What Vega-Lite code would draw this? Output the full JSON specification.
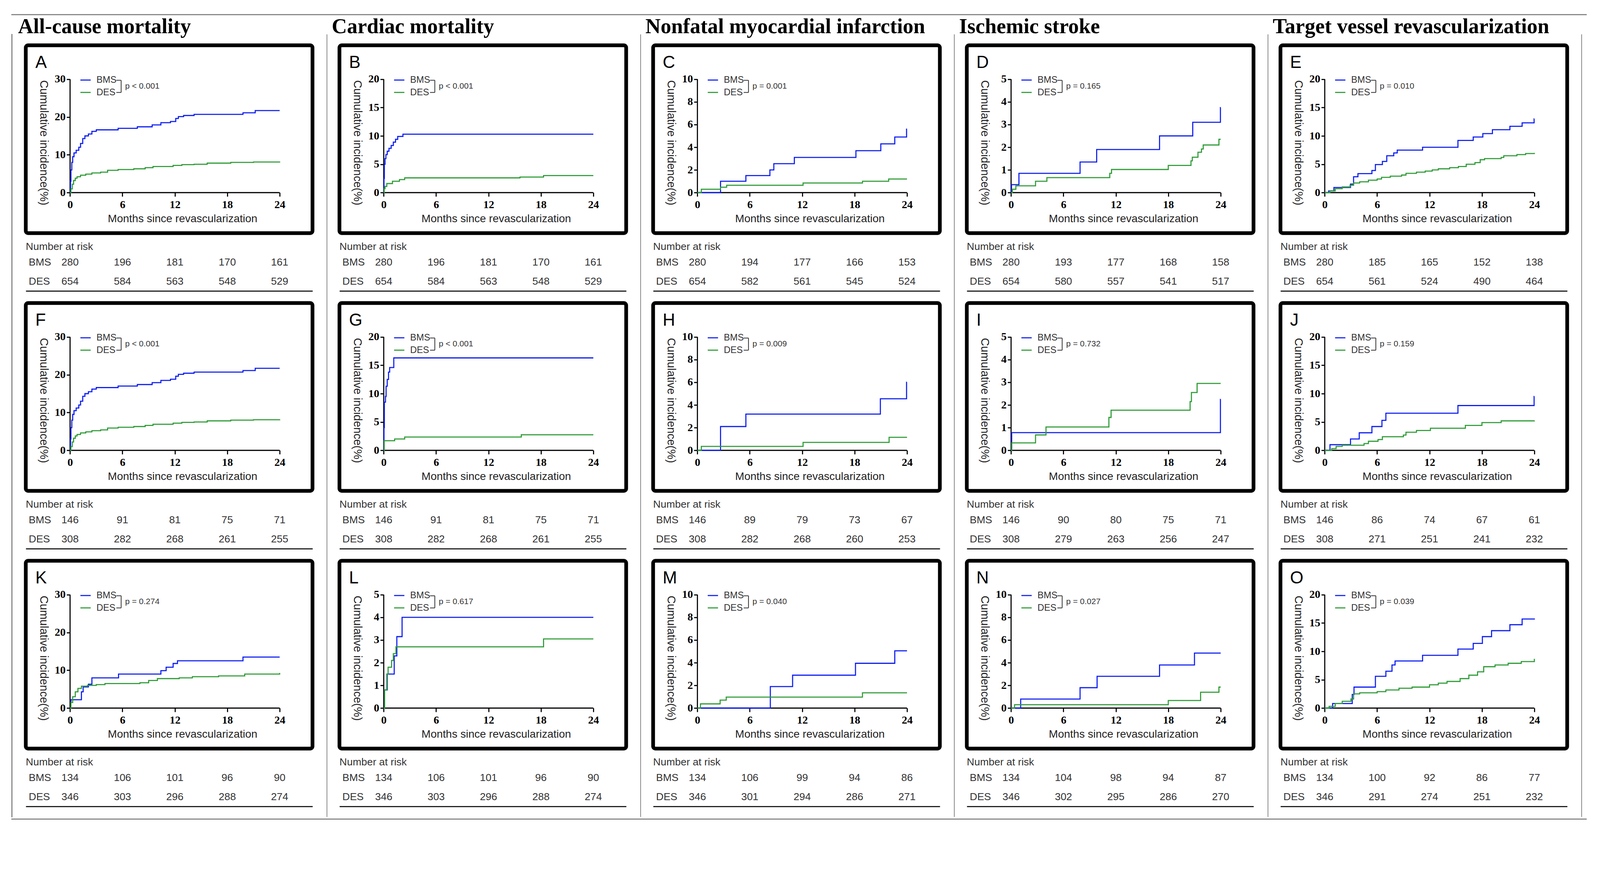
{
"$schema":"https://vega.github.io/schema/vega-lite/v6.json",
"background":"white",
"padding":{"left":26,"top":33,"right":8,"bottom":8},
"datasets":{
"cA":[{"g":"BMS","t":0,"c":0},{"g":"BMS","t":0.05,"c":3},{"g":"BMS","t":0.1,"c":6},{"g":"BMS","t":0.2,"c":8},{"g":"BMS","t":0.3,"c":9.5},{"g":"BMS","t":0.45,"c":10.5},{"g":"BMS","t":0.7,"c":11.2},{"g":"BMS","t":1,"c":12},{"g":"BMS","t":1.2,"c":13},{"g":"BMS","t":1.45,"c":14.3},{"g":"BMS","t":1.7,"c":15},{"g":"BMS","t":2.1,"c":15.5},{"g":"BMS","t":2.5,"c":16.2},{"g":"BMS","t":3,"c":16.6},{"g":"BMS","t":5.5,"c":17},{"g":"BMS","t":7.7,"c":17.4},{"g":"BMS","t":9.4,"c":17.9},{"g":"BMS","t":10.4,"c":18.5},{"g":"BMS","t":11.5,"c":18.8},{"g":"BMS","t":12.1,"c":19.6},{"g":"BMS","t":12.4,"c":20.1},{"g":"BMS","t":13,"c":20.4},{"g":"BMS","t":14.2,"c":20.7},{"g":"BMS","t":19.8,"c":21.1},{"g":"BMS","t":21.2,"c":21.7},{"g":"BMS","t":24,"c":21.7},
{"g":"DES","t":0,"c":0},{"g":"DES","t":0.1,"c":1},{"g":"DES","t":0.25,"c":2.2},{"g":"DES","t":0.4,"c":3.2},{"g":"DES","t":0.6,"c":3.8},{"g":"DES","t":0.8,"c":4.2},{"g":"DES","t":1.2,"c":4.6},{"g":"DES","t":1.8,"c":4.9},{"g":"DES","t":2.5,"c":5.2},{"g":"DES","t":3.5,"c":5.4},{"g":"DES","t":4.3,"c":5.9},{"g":"DES","t":5.5,"c":6.1},{"g":"DES","t":7.3,"c":6.3},{"g":"DES","t":8.6,"c":6.6},{"g":"DES","t":9.5,"c":6.9},{"g":"DES","t":11.8,"c":7.2},{"g":"DES","t":12.8,"c":7.4},{"g":"DES","t":14.2,"c":7.5},{"g":"DES","t":15.7,"c":7.8},{"g":"DES","t":18.4,"c":8},{"g":"DES","t":21,"c":8.1},{"g":"DES","t":24,"c":8.2}],
"cB":[{"g":"BMS","t":0,"c":0},{"g":"BMS","t":0.03,"c":2.5},{"g":"BMS","t":0.07,"c":5},{"g":"BMS","t":0.15,"c":6},{"g":"BMS","t":0.25,"c":6.7},{"g":"BMS","t":0.4,"c":7.3},{"g":"BMS","t":0.6,"c":7.8},{"g":"BMS","t":0.85,"c":8.3},{"g":"BMS","t":1.1,"c":8.9},{"g":"BMS","t":1.35,"c":9.4},{"g":"BMS","t":1.6,"c":9.9},{"g":"BMS","t":2.2,"c":10.3},{"g":"BMS","t":24,"c":10.3},
{"g":"DES","t":0,"c":0},{"g":"DES","t":0.05,"c":0.7},{"g":"DES","t":0.15,"c":1.1},{"g":"DES","t":0.35,"c":1.6},{"g":"DES","t":1,"c":2},{"g":"DES","t":1.8,"c":2.3},{"g":"DES","t":2.4,"c":2.6},{"g":"DES","t":15.6,"c":2.75},{"g":"DES","t":18.3,"c":3},{"g":"DES","t":24,"c":3}],
"cC":[{"g":"BMS","t":0,"c":0},{"g":"BMS","t":2.65,"c":1},{"g":"BMS","t":5.55,"c":1.5},{"g":"BMS","t":8.3,"c":2},{"g":"BMS","t":8.75,"c":2.55},{"g":"BMS","t":11.1,"c":3.1},{"g":"BMS","t":18.15,"c":3.7},{"g":"BMS","t":21,"c":4.3},{"g":"BMS","t":22.6,"c":4.9},{"g":"BMS","t":23.95,"c":5.6},{"g":"BMS","t":24,"c":5.6},
{"g":"DES","t":0,"c":0},{"g":"DES","t":0.45,"c":0.3},{"g":"DES","t":2.65,"c":0.48},{"g":"DES","t":3.35,"c":0.65},{"g":"DES","t":12.1,"c":0.85},{"g":"DES","t":18.9,"c":1},{"g":"DES","t":21.9,"c":1.2},{"g":"DES","t":24,"c":1.2}],
"cD":[{"g":"BMS","t":0,"c":0},{"g":"BMS","t":0.05,"c":0.35},{"g":"BMS","t":0.9,"c":0.85},{"g":"BMS","t":7.9,"c":1.35},{"g":"BMS","t":9.8,"c":1.9},{"g":"BMS","t":17,"c":2.5},{"g":"BMS","t":20.8,"c":3.1},{"g":"BMS","t":23.97,"c":3.75},{"g":"BMS","t":24,"c":3.75},
{"g":"DES","t":0,"c":0},{"g":"DES","t":0.15,"c":0.15},{"g":"DES","t":0.55,"c":0.3},{"g":"DES","t":2.8,"c":0.5},{"g":"DES","t":4.1,"c":0.66},{"g":"DES","t":11.3,"c":0.85},{"g":"DES","t":11.5,"c":1.02},{"g":"DES","t":18,"c":1.2},{"g":"DES","t":20.6,"c":1.4},{"g":"DES","t":20.75,"c":1.56},{"g":"DES","t":21.4,"c":1.78},{"g":"DES","t":21.8,"c":1.92},{"g":"DES","t":22,"c":2.1},{"g":"DES","t":23.8,"c":2.35},{"g":"DES","t":24,"c":2.35}],
"cE":[{"g":"BMS","t":0,"c":0},{"g":"BMS","t":0.45,"c":0.3},{"g":"BMS","t":1.05,"c":0.9},{"g":"BMS","t":2.95,"c":1.5},{"g":"BMS","t":3.3,"c":2.8},{"g":"BMS","t":3.8,"c":3.35},{"g":"BMS","t":5.4,"c":3.9},{"g":"BMS","t":5.8,"c":4.95},{"g":"BMS","t":6.6,"c":5.5},{"g":"BMS","t":7.1,"c":6.5},{"g":"BMS","t":7.9,"c":7},{"g":"BMS","t":8.3,"c":7.5},{"g":"BMS","t":11.2,"c":8},{"g":"BMS","t":15.25,"c":9.2},{"g":"BMS","t":17,"c":9.8},{"g":"BMS","t":18.1,"c":10.4},{"g":"BMS","t":19.2,"c":11.1},{"g":"BMS","t":21.2,"c":11.7},{"g":"BMS","t":22.6,"c":12.3},{"g":"BMS","t":23.97,"c":13},{"g":"BMS","t":24,"c":13},
{"g":"DES","t":0,"c":0},{"g":"DES","t":0.6,"c":0.3},{"g":"DES","t":1.2,"c":0.7},{"g":"DES","t":2,"c":1},{"g":"DES","t":2.9,"c":1.3},{"g":"DES","t":3.3,"c":1.7},{"g":"DES","t":4,"c":1.9},{"g":"DES","t":5,"c":2.2},{"g":"DES","t":6,"c":2.4},{"g":"DES","t":6.5,"c":2.7},{"g":"DES","t":7.5,"c":2.9},{"g":"DES","t":8.8,"c":3.1},{"g":"DES","t":9.3,"c":3.4},{"g":"DES","t":10.5,"c":3.6},{"g":"DES","t":11.5,"c":3.8},{"g":"DES","t":12.3,"c":4},{"g":"DES","t":13,"c":4.2},{"g":"DES","t":14.3,"c":4.4},{"g":"DES","t":15.3,"c":4.6},{"g":"DES","t":16.2,"c":5},{"g":"DES","t":17.2,"c":5.3},{"g":"DES","t":17.8,"c":5.8},{"g":"DES","t":18.3,"c":6},{"g":"DES","t":20.2,"c":6.2},{"g":"DES","t":20.5,"c":6.5},{"g":"DES","t":22,"c":6.7},{"g":"DES","t":23,"c":6.9},{"g":"DES","t":24,"c":7}],
"cG":[{"g":"BMS","t":0,"c":0},{"g":"BMS","t":0.03,"c":4},{"g":"BMS","t":0.07,"c":8.5},{"g":"BMS","t":0.2,"c":9.5},{"g":"BMS","t":0.27,"c":11.3},{"g":"BMS","t":0.4,"c":12.5},{"g":"BMS","t":0.55,"c":13.8},{"g":"BMS","t":0.68,"c":14.6},{"g":"BMS","t":1.15,"c":16.3},{"g":"BMS","t":24,"c":16.3},
{"g":"DES","t":0,"c":0},{"g":"DES","t":0.05,"c":1.7},{"g":"DES","t":1.25,"c":2},{"g":"DES","t":2.4,"c":2.35},{"g":"DES","t":15.75,"c":2.75},{"g":"DES","t":24,"c":2.75}],
"cH":[{"g":"BMS","t":0,"c":0},{"g":"BMS","t":2.65,"c":2.1},{"g":"BMS","t":5.55,"c":3.2},{"g":"BMS","t":20.95,"c":4.55},{"g":"BMS","t":23.95,"c":6},{"g":"BMS","t":24,"c":6},
{"g":"DES","t":0,"c":0},{"g":"DES","t":0.45,"c":0.35},{"g":"DES","t":12.1,"c":0.7},{"g":"DES","t":21.95,"c":1.15},{"g":"DES","t":24,"c":1.15}],
"cI":[{"g":"BMS","t":0,"c":0},{"g":"BMS","t":0.07,"c":0.78},{"g":"BMS","t":23.97,"c":2.25},{"g":"BMS","t":24,"c":2.25},
{"g":"DES","t":0,"c":0},{"g":"DES","t":0.07,"c":0.33},{"g":"DES","t":2.8,"c":0.68},{"g":"DES","t":4,"c":1.03},{"g":"DES","t":11.2,"c":1.45},{"g":"DES","t":11.45,"c":1.77},{"g":"DES","t":20.5,"c":2.15},{"g":"DES","t":20.65,"c":2.55},{"g":"DES","t":21.3,"c":2.95},{"g":"DES","t":24,"c":2.95}],
"cJ":[{"g":"BMS","t":0,"c":0},{"g":"BMS","t":0.6,"c":1},{"g":"BMS","t":2.95,"c":2},{"g":"BMS","t":3.95,"c":3.1},{"g":"BMS","t":5.4,"c":4.2},{"g":"BMS","t":6.55,"c":5.3},{"g":"BMS","t":7,"c":6.55},{"g":"BMS","t":15.25,"c":7.9},{"g":"BMS","t":23.97,"c":9.5},{"g":"BMS","t":24,"c":9.5},
{"g":"DES","t":0,"c":0},{"g":"DES","t":0.8,"c":0.3},{"g":"DES","t":1.3,"c":0.7},{"g":"DES","t":2,"c":0.9},{"g":"DES","t":4.5,"c":1.2},{"g":"DES","t":5,"c":1.6},{"g":"DES","t":6.1,"c":1.9},{"g":"DES","t":6.6,"c":2.4},{"g":"DES","t":9,"c":2.7},{"g":"DES","t":9.3,"c":3.2},{"g":"DES","t":10.5,"c":3.5},{"g":"DES","t":12.1,"c":3.9},{"g":"DES","t":16.1,"c":4.4},{"g":"DES","t":18,"c":4.9},{"g":"DES","t":20.2,"c":5.2},{"g":"DES","t":24,"c":5.25}],
"cK":[{"g":"BMS","t":0,"c":0},{"g":"BMS","t":0.1,"c":2.2},{"g":"BMS","t":1.3,"c":4.3},{"g":"BMS","t":1.5,"c":5.6},{"g":"BMS","t":2.1,"c":6.3},{"g":"BMS","t":2.5,"c":8},{"g":"BMS","t":5.55,"c":9},{"g":"BMS","t":10.4,"c":9.9},{"g":"BMS","t":11,"c":10.8},{"g":"BMS","t":11.8,"c":11.8},{"g":"BMS","t":12.3,"c":12.5},{"g":"BMS","t":19.8,"c":13.5},{"g":"BMS","t":24,"c":13.5},
{"g":"DES","t":0,"c":0},{"g":"DES","t":0.1,"c":1.5},{"g":"DES","t":0.3,"c":3},{"g":"DES","t":0.6,"c":4.3},{"g":"DES","t":0.9,"c":5.2},{"g":"DES","t":1.3,"c":5.8},{"g":"DES","t":2,"c":6},{"g":"DES","t":3,"c":6.2},{"g":"DES","t":4,"c":6.5},{"g":"DES","t":8,"c":6.7},{"g":"DES","t":9,"c":7.3},{"g":"DES","t":10,"c":7.8},{"g":"DES","t":12.5,"c":8},{"g":"DES","t":14,"c":8.3},{"g":"DES","t":17,"c":8.5},{"g":"DES","t":20,"c":9},{"g":"DES","t":24,"c":9.3}],
"cL":[{"g":"BMS","t":0,"c":0},{"g":"BMS","t":0.1,"c":0.8},{"g":"BMS","t":0.4,"c":1.5},{"g":"BMS","t":1.2,"c":2.3},{"g":"BMS","t":1.5,"c":3.15},{"g":"BMS","t":2.1,"c":4},{"g":"BMS","t":24,"c":4},
{"g":"DES","t":0,"c":0},{"g":"DES","t":0.1,"c":0.8},{"g":"DES","t":0.35,"c":1.5},{"g":"DES","t":0.5,"c":1.8},{"g":"DES","t":0.9,"c":2.1},{"g":"DES","t":1.1,"c":2.4},{"g":"DES","t":1.4,"c":2.7},{"g":"DES","t":18.3,"c":3.05},{"g":"DES","t":24,"c":3.05}],
"cM":[{"g":"BMS","t":0,"c":0},{"g":"BMS","t":8.35,"c":1.9},{"g":"BMS","t":10.9,"c":2.9},{"g":"BMS","t":18.1,"c":3.95},{"g":"BMS","t":22.6,"c":5.05},{"g":"BMS","t":24,"c":5.05},
{"g":"DES","t":0,"c":0},{"g":"DES","t":0.35,"c":0.37},{"g":"DES","t":2.6,"c":0.7},{"g":"DES","t":3.3,"c":0.97},{"g":"DES","t":18.9,"c":1.35},{"g":"DES","t":24,"c":1.35}],
"cN":[{"g":"BMS","t":0,"c":0},{"g":"BMS","t":1.1,"c":0.8},{"g":"BMS","t":7.9,"c":1.8},{"g":"BMS","t":9.85,"c":2.8},{"g":"BMS","t":17,"c":3.8},{"g":"BMS","t":21,"c":4.85},{"g":"BMS","t":24,"c":4.85},
{"g":"DES","t":0,"c":0},{"g":"DES","t":0.4,"c":0.3},{"g":"DES","t":18,"c":0.67},{"g":"DES","t":21.7,"c":1.4},{"g":"DES","t":23.8,"c":1.85},{"g":"DES","t":24,"c":1.85}],
"cO":[{"g":"BMS","t":0,"c":0},{"g":"BMS","t":0.9,"c":0.8},{"g":"BMS","t":3.15,"c":2.4},{"g":"BMS","t":3.35,"c":3.7},{"g":"BMS","t":5.8,"c":5.6},{"g":"BMS","t":7,"c":6.5},{"g":"BMS","t":7.7,"c":7.6},{"g":"BMS","t":8.05,"c":8.3},{"g":"BMS","t":11.2,"c":9.3},{"g":"BMS","t":15.25,"c":10.4},{"g":"BMS","t":17,"c":11.4},{"g":"BMS","t":18.05,"c":12.6},{"g":"BMS","t":19.1,"c":13.65},{"g":"BMS","t":21.2,"c":14.7},{"g":"BMS","t":22.6,"c":15.7},{"g":"BMS","t":24,"c":15.8},
{"g":"DES","t":0,"c":0},{"g":"DES","t":0.5,"c":0.3},{"g":"DES","t":1.2,"c":0.8},{"g":"DES","t":2,"c":1.2},{"g":"DES","t":3,"c":1.6},{"g":"DES","t":3.3,"c":2.5},{"g":"DES","t":4,"c":2.7},{"g":"DES","t":6,"c":2.9},{"g":"DES","t":7,"c":3.2},{"g":"DES","t":8.5,"c":3.5},{"g":"DES","t":10,"c":3.7},{"g":"DES","t":12,"c":4.1},{"g":"DES","t":13,"c":4.4},{"g":"DES","t":14,"c":4.7},{"g":"DES","t":15.5,"c":5.2},{"g":"DES","t":16.5,"c":5.8},{"g":"DES","t":17.5,"c":6.4},{"g":"DES","t":18.2,"c":7.3},{"g":"DES","t":19.5,"c":7.6},{"g":"DES","t":21,"c":7.9},{"g":"DES","t":22.5,"c":8.2},{"g":"DES","t":24,"c":8.7}],
"rAB":[{"g":"BMS","t":0,"n":280},{"g":"BMS","t":6,"n":196},{"g":"BMS","t":12,"n":181},{"g":"BMS","t":18,"n":170},{"g":"BMS","t":24,"n":161},{"g":"DES","t":0,"n":654},{"g":"DES","t":6,"n":584},{"g":"DES","t":12,"n":563},{"g":"DES","t":18,"n":548},{"g":"DES","t":24,"n":529}],
"rC":[{"g":"BMS","t":0,"n":280},{"g":"BMS","t":6,"n":194},{"g":"BMS","t":12,"n":177},{"g":"BMS","t":18,"n":166},{"g":"BMS","t":24,"n":153},{"g":"DES","t":0,"n":654},{"g":"DES","t":6,"n":582},{"g":"DES","t":12,"n":561},{"g":"DES","t":18,"n":545},{"g":"DES","t":24,"n":524}],
"rD":[{"g":"BMS","t":0,"n":280},{"g":"BMS","t":6,"n":193},{"g":"BMS","t":12,"n":177},{"g":"BMS","t":18,"n":168},{"g":"BMS","t":24,"n":158},{"g":"DES","t":0,"n":654},{"g":"DES","t":6,"n":580},{"g":"DES","t":12,"n":557},{"g":"DES","t":18,"n":541},{"g":"DES","t":24,"n":517}],
"rE":[{"g":"BMS","t":0,"n":280},{"g":"BMS","t":6,"n":185},{"g":"BMS","t":12,"n":165},{"g":"BMS","t":18,"n":152},{"g":"BMS","t":24,"n":138},{"g":"DES","t":0,"n":654},{"g":"DES","t":6,"n":561},{"g":"DES","t":12,"n":524},{"g":"DES","t":18,"n":490},{"g":"DES","t":24,"n":464}],
"rFG":[{"g":"BMS","t":0,"n":146},{"g":"BMS","t":6,"n":91},{"g":"BMS","t":12,"n":81},{"g":"BMS","t":18,"n":75},{"g":"BMS","t":24,"n":71},{"g":"DES","t":0,"n":308},{"g":"DES","t":6,"n":282},{"g":"DES","t":12,"n":268},{"g":"DES","t":18,"n":261},{"g":"DES","t":24,"n":255}],
"rH":[{"g":"BMS","t":0,"n":146},{"g":"BMS","t":6,"n":89},{"g":"BMS","t":12,"n":79},{"g":"BMS","t":18,"n":73},{"g":"BMS","t":24,"n":67},{"g":"DES","t":0,"n":308},{"g":"DES","t":6,"n":282},{"g":"DES","t":12,"n":268},{"g":"DES","t":18,"n":260},{"g":"DES","t":24,"n":253}],
"rI":[{"g":"BMS","t":0,"n":146},{"g":"BMS","t":6,"n":90},{"g":"BMS","t":12,"n":80},{"g":"BMS","t":18,"n":75},{"g":"BMS","t":24,"n":71},{"g":"DES","t":0,"n":308},{"g":"DES","t":6,"n":279},{"g":"DES","t":12,"n":263},{"g":"DES","t":18,"n":256},{"g":"DES","t":24,"n":247}],
"rJ":[{"g":"BMS","t":0,"n":146},{"g":"BMS","t":6,"n":86},{"g":"BMS","t":12,"n":74},{"g":"BMS","t":18,"n":67},{"g":"BMS","t":24,"n":61},{"g":"DES","t":0,"n":308},{"g":"DES","t":6,"n":271},{"g":"DES","t":12,"n":251},{"g":"DES","t":18,"n":241},{"g":"DES","t":24,"n":232}],
"rKL":[{"g":"BMS","t":0,"n":134},{"g":"BMS","t":6,"n":106},{"g":"BMS","t":12,"n":101},{"g":"BMS","t":18,"n":96},{"g":"BMS","t":24,"n":90},{"g":"DES","t":0,"n":346},{"g":"DES","t":6,"n":303},{"g":"DES","t":12,"n":296},{"g":"DES","t":18,"n":288},{"g":"DES","t":24,"n":274}],
"rM":[{"g":"BMS","t":0,"n":134},{"g":"BMS","t":6,"n":106},{"g":"BMS","t":12,"n":99},{"g":"BMS","t":18,"n":94},{"g":"BMS","t":24,"n":86},{"g":"DES","t":0,"n":346},{"g":"DES","t":6,"n":301},{"g":"DES","t":12,"n":294},{"g":"DES","t":18,"n":286},{"g":"DES","t":24,"n":271}],
"rN":[{"g":"BMS","t":0,"n":134},{"g":"BMS","t":6,"n":104},{"g":"BMS","t":12,"n":98},{"g":"BMS","t":18,"n":94},{"g":"BMS","t":24,"n":87},{"g":"DES","t":0,"n":346},{"g":"DES","t":6,"n":302},{"g":"DES","t":12,"n":295},{"g":"DES","t":18,"n":286},{"g":"DES","t":24,"n":270}],
"rO":[{"g":"BMS","t":0,"n":134},{"g":"BMS","t":6,"n":100},{"g":"BMS","t":12,"n":92},{"g":"BMS","t":18,"n":86},{"g":"BMS","t":24,"n":77},{"g":"DES","t":0,"n":346},{"g":"DES","t":6,"n":291},{"g":"DES","t":12,"n":274},{"g":"DES","t":18,"n":251},{"g":"DES","t":24,"n":232}]
},
"spacing":0,
"resolve":{"scale":{"color":"independent"}},
"vconcat":[
{"width":4031,"height":1,"view":{"stroke":"#8a8a8a","strokeWidth":2},"data":{"values":[{}]},"mark":{"type":"point","opacity":0},"encoding":{}},
{"spacing":11,"center":true,"resolve":{"scale":{"color":"independent"}},
"hconcat":[
{"width":1,"height":2004,"view":{"stroke":"#8a8a8a","strokeWidth":2},"data":{"values":[{}]},"mark":{"type":"point","opacity":0},"encoding":{}},
{"title":{"text":"All-cause mortality","font":"Liberation Serif","fontSize":54,"fontWeight":"bold","anchor":"start","frame":"bounds","offset":-28,"dx":-15,"baseline":"alphabetic","color":"#000"},
"spacing":26,"resolve":{"scale":{"color":"independent"}},
"vconcat":[
{"spacing":16,"resolve":{"scale":{"color":"independent"}},"vconcat":[
{"width":734,"height":481,"view":{"stroke":"#000","strokeWidth":9.5,"cornerRadius":6},"title":{"text":"A"},
"layer":[
{"data":{"values":[{}]},"mark":{"type":"rule","strokeWidth":2.8,"color":"#000"},"encoding":{"x":{"datum":0,"type":"quantitative"},"x2":{"datum":24},"y":{"datum":0,"type":"quantitative"}}},
{"data":{"values":[{}]},"mark":{"type":"rule","strokeWidth":2.8,"color":"#000"},"encoding":{"x":{"datum":0,"type":"quantitative"},"y":{"datum":0,"type":"quantitative"},"y2":{"datum":30}}},
{"data":{"values":[{}]},"mark":{"type":"rule","strokeWidth":2,"color":"#333"},"encoding":{"x":{"datum":5.3,"type":"quantitative"},"x2":{"datum":5.85},"y":{"datum":29.71,"type":"quantitative"}}},
{"data":{"values":[{}]},"mark":{"type":"rule","strokeWidth":2,"color":"#333"},"encoding":{"x":{"datum":5.3,"type":"quantitative"},"x2":{"datum":5.85},"y":{"datum":26.49,"type":"quantitative"}}},
{"data":{"values":[{}]},"mark":{"type":"rule","strokeWidth":2,"color":"#333"},"encoding":{"x":{"datum":5.85,"type":"quantitative"},"y":{"datum":29.71,"type":"quantitative"},"y2":{"datum":26.49}}},
{"data":{"values":[{"p":"p < 0.001"}]},"mark":{"type":"text","align":"left","baseline":"middle","fontSize":21,"color":"#333"},"encoding":{"x":{"datum":6.3,"type":"quantitative"},"y":{"datum":28.1,"type":"quantitative"},"text":{"field":"p"}}},
{"data":{"name":"cA"},"mark":{"type":"line","interpolate":"step-after","strokeWidth":2.8},"encoding":{"x":{"field":"t","type":"quantitative","scale":{"domain":[-5.07,27.76],"nice":false,"zero":false},"axis":{"values":[0,6,12,18,24],"title":"Months since revascularization"}},"y":{"field":"c","type":"quantitative","scale":{"domain":[-10.714,38.961],"nice":false,"zero":false},"axis":{"values":[0,10,20,30],"format":"d","title":"Cumulative incidence(%)"}},"color":{"field":"g","type":"nominal","scale":{"domain":["BMS","DES"],"range":["#0d1ef2","#2e9b36"]},"legend":{"title":null,"orient":"none","legendX":138,"legendY":74}}}}
]},
{"width":734,"height":98,"title":{"text":"Number at risk","anchor":"start","frame":"group","fontSize":26.5,"font":"Liberation Sans","fontWeight":"normal","color":"#333","baseline":"alphabetic","offset":-19,"dx":0},"data":{"name":"rAB"},"mark":{"type":"text","fontSize":26.5,"color":"#333"},"encoding":{"x":{"field":"t","type":"quantitative","scale":{"domain":[-5.07,27.76],"nice":false,"zero":false},"axis":{"offset":0,"domain":true,"domainColor":"#222","domainWidth":3,"labels":false,"ticks":false,"title":null}},"y":{"field":"g","type":"nominal","scale":{"domain":["BMS","DES"]},"axis":{"offset":-7,"domain":false,"ticks":false,"title":null,"labelAlign":"left","labelPadding":0,"labelFont":"Liberation Sans","labelFontWeight":"normal","labelFontSize":26.5,"labelColor":"#333"}},"text":{"field":"n"}}}
]},
{"spacing":16,"resolve":{"scale":{"color":"independent"}},"vconcat":[
{"width":734,"height":481,"view":{"stroke":"#000","strokeWidth":9.5,"cornerRadius":6},"title":{"text":"F"},
"layer":[
{"data":{"values":[{}]},"mark":{"type":"rule","strokeWidth":2.8,"color":"#000"},"encoding":{"x":{"datum":0,"type":"quantitative"},"x2":{"datum":24},"y":{"datum":0,"type":"quantitative"}}},
{"data":{"values":[{}]},"mark":{"type":"rule","strokeWidth":2.8,"color":"#000"},"encoding":{"x":{"datum":0,"type":"quantitative"},"y":{"datum":0,"type":"quantitative"},"y2":{"datum":30}}},
{"data":{"values":[{}]},"mark":{"type":"rule","strokeWidth":2,"color":"#333"},"encoding":{"x":{"datum":5.3,"type":"quantitative"},"x2":{"datum":5.85},"y":{"datum":29.71,"type":"quantitative"}}},
{"data":{"values":[{}]},"mark":{"type":"rule","strokeWidth":2,"color":"#333"},"encoding":{"x":{"datum":5.3,"type":"quantitative"},"x2":{"datum":5.85},"y":{"datum":26.49,"type":"quantitative"}}},
{"data":{"values":[{}]},"mark":{"type":"rule","strokeWidth":2,"color":"#333"},"encoding":{"x":{"datum":5.85,"type":"quantitative"},"y":{"datum":29.71,"type":"quantitative"},"y2":{"datum":26.49}}},
{"data":{"values":[{"p":"p < 0.001"}]},"mark":{"type":"text","align":"left","baseline":"middle","fontSize":21,"color":"#333"},"encoding":{"x":{"datum":6.3,"type":"quantitative"},"y":{"datum":28.1,"type":"quantitative"},"text":{"field":"p"}}},
{"data":{"name":"cA"},"mark":{"type":"line","interpolate":"step-after","strokeWidth":2.8},"encoding":{"x":{"field":"t","type":"quantitative","scale":{"domain":[-5.07,27.76],"nice":false,"zero":false},"axis":{"values":[0,6,12,18,24],"title":"Months since revascularization"}},"y":{"field":"c","type":"quantitative","scale":{"domain":[-10.714,38.961],"nice":false,"zero":false},"axis":{"values":[0,10,20,30],"format":"d","title":"Cumulative incidence(%)"}},"color":{"field":"g","type":"nominal","scale":{"domain":["BMS","DES"],"range":["#0d1ef2","#2e9b36"]},"legend":{"title":null,"orient":"none","legendX":138,"legendY":74}}}}
]},
{"width":734,"height":98,"title":{"text":"Number at risk","anchor":"start","frame":"group","fontSize":26.5,"font":"Liberation Sans","fontWeight":"normal","color":"#333","baseline":"alphabetic","offset":-19,"dx":0},"data":{"name":"rFG"},"mark":{"type":"text","fontSize":26.5,"color":"#333"},"encoding":{"x":{"field":"t","type":"quantitative","scale":{"domain":[-5.07,27.76],"nice":false,"zero":false},"axis":{"offset":0,"domain":true,"domainColor":"#222","domainWidth":3,"labels":false,"ticks":false,"title":null}},"y":{"field":"g","type":"nominal","scale":{"domain":["BMS","DES"]},"axis":{"offset":-7,"domain":false,"ticks":false,"title":null,"labelAlign":"left","labelPadding":0,"labelFont":"Liberation Sans","labelFontWeight":"normal","labelFontSize":26.5,"labelColor":"#333"}},"text":{"field":"n"}}}
]},
{"spacing":16,"resolve":{"scale":{"color":"independent"}},"vconcat":[
{"width":734,"height":481,"view":{"stroke":"#000","strokeWidth":9.5,"cornerRadius":6},"title":{"text":"K"},
"layer":[
{"data":{"values":[{}]},"mark":{"type":"rule","strokeWidth":2.8,"color":"#000"},"encoding":{"x":{"datum":0,"type":"quantitative"},"x2":{"datum":24},"y":{"datum":0,"type":"quantitative"}}},
{"data":{"values":[{}]},"mark":{"type":"rule","strokeWidth":2.8,"color":"#000"},"encoding":{"x":{"datum":0,"type":"quantitative"},"y":{"datum":0,"type":"quantitative"},"y2":{"datum":30}}},
{"data":{"values":[{}]},"mark":{"type":"rule","strokeWidth":2,"color":"#333"},"encoding":{"x":{"datum":5.3,"type":"quantitative"},"x2":{"datum":5.85},"y":{"datum":29.71,"type":"quantitative"}}},
{"data":{"values":[{}]},"mark":{"type":"rule","strokeWidth":2,"color":"#333"},"encoding":{"x":{"datum":5.3,"type":"quantitative"},"x2":{"datum":5.85},"y":{"datum":26.49,"type":"quantitative"}}},
{"data":{"values":[{}]},"mark":{"type":"rule","strokeWidth":2,"color":"#333"},"encoding":{"x":{"datum":5.85,"type":"quantitative"},"y":{"datum":29.71,"type":"quantitative"},"y2":{"datum":26.49}}},
{"data":{"values":[{"p":"p = 0.274"}]},"mark":{"type":"text","align":"left","baseline":"middle","fontSize":21,"color":"#333"},"encoding":{"x":{"datum":6.3,"type":"quantitative"},"y":{"datum":28.1,"type":"quantitative"},"text":{"field":"p"}}},
{"data":{"name":"cK"},"mark":{"type":"line","interpolate":"step-after","strokeWidth":2.8},"encoding":{"x":{"field":"t","type":"quantitative","scale":{"domain":[-5.07,27.76],"nice":false,"zero":false},"axis":{"values":[0,6,12,18,24],"title":"Months since revascularization"}},"y":{"field":"c","type":"quantitative","scale":{"domain":[-10.714,38.961],"nice":false,"zero":false},"axis":{"values":[0,10,20,30],"format":"d","title":"Cumulative incidence(%)"}},"color":{"field":"g","type":"nominal","scale":{"domain":["BMS","DES"],"range":["#0d1ef2","#2e9b36"]},"legend":{"title":null,"orient":"none","legendX":138,"legendY":74}}}}
]},
{"width":734,"height":98,"title":{"text":"Number at risk","anchor":"start","frame":"group","fontSize":26.5,"font":"Liberation Sans","fontWeight":"normal","color":"#333","baseline":"alphabetic","offset":-19,"dx":0},"data":{"name":"rKL"},"mark":{"type":"text","fontSize":26.5,"color":"#333"},"encoding":{"x":{"field":"t","type":"quantitative","scale":{"domain":[-5.07,27.76],"nice":false,"zero":false},"axis":{"offset":0,"domain":true,"domainColor":"#222","domainWidth":3,"labels":false,"ticks":false,"title":null}},"y":{"field":"g","type":"nominal","scale":{"domain":["BMS","DES"]},"axis":{"offset":-7,"domain":false,"ticks":false,"title":null,"labelAlign":"left","labelPadding":0,"labelFont":"Liberation Sans","labelFontWeight":"normal","labelFontSize":26.5,"labelColor":"#333"}},"text":{"field":"n"}}}
]}
]},
{"width":20,"height":2004,"view":{"stroke":"#8a8a8a","strokeWidth":2,"strokeDash":[0,20,2004,10000]},"data":{"values":[{}]},"mark":{"type":"point","opacity":0},"encoding":{}},
{"title":{"text":"Cardiac mortality","font":"Liberation Serif","fontSize":54,"fontWeight":"bold","anchor":"start","frame":"bounds","offset":-28,"dx":-15,"baseline":"alphabetic","color":"#000"},
"spacing":26,"resolve":{"scale":{"color":"independent"}},
"vconcat":[
{"spacing":16,"resolve":{"scale":{"color":"independent"}},"vconcat":[
{"width":734,"height":481,"view":{"stroke":"#000","strokeWidth":9.5,"cornerRadius":6},"title":{"text":"B"},
"layer":[
{"data":{"values":[{}]},"mark":{"type":"rule","strokeWidth":2.8,"color":"#000"},"encoding":{"x":{"datum":0,"type":"quantitative"},"x2":{"datum":24},"y":{"datum":0,"type":"quantitative"}}},
{"data":{"values":[{}]},"mark":{"type":"rule","strokeWidth":2.8,"color":"#000"},"encoding":{"x":{"datum":0,"type":"quantitative"},"y":{"datum":0,"type":"quantitative"},"y2":{"datum":20}}},
{"data":{"values":[{}]},"mark":{"type":"rule","strokeWidth":2,"color":"#333"},"encoding":{"x":{"datum":5.3,"type":"quantitative"},"x2":{"datum":5.85},"y":{"datum":19.81,"type":"quantitative"}}},
{"data":{"values":[{}]},"mark":{"type":"rule","strokeWidth":2,"color":"#333"},"encoding":{"x":{"datum":5.3,"type":"quantitative"},"x2":{"datum":5.85},"y":{"datum":17.66,"type":"quantitative"}}},
{"data":{"values":[{}]},"mark":{"type":"rule","strokeWidth":2,"color":"#333"},"encoding":{"x":{"datum":5.85,"type":"quantitative"},"y":{"datum":19.81,"type":"quantitative"},"y2":{"datum":17.66}}},
{"data":{"values":[{"p":"p < 0.001"}]},"mark":{"type":"text","align":"left","baseline":"middle","fontSize":21,"color":"#333"},"encoding":{"x":{"datum":6.3,"type":"quantitative"},"y":{"datum":18.74,"type":"quantitative"},"text":{"field":"p"}}},
{"data":{"name":"cB"},"mark":{"type":"line","interpolate":"step-after","strokeWidth":2.8},"encoding":{"x":{"field":"t","type":"quantitative","scale":{"domain":[-5.07,27.76],"nice":false,"zero":false},"axis":{"values":[0,6,12,18,24],"title":"Months since revascularization"}},"y":{"field":"c","type":"quantitative","scale":{"domain":[-7.143,25.974],"nice":false,"zero":false},"axis":{"values":[0,5,10,15,20],"format":"d","title":"Cumulative incidence(%)"}},"color":{"field":"g","type":"nominal","scale":{"domain":["BMS","DES"],"range":["#0d1ef2","#2e9b36"]},"legend":{"title":null,"orient":"none","legendX":138,"legendY":74}}}}
]},
{"width":734,"height":98,"title":{"text":"Number at risk","anchor":"start","frame":"group","fontSize":26.5,"font":"Liberation Sans","fontWeight":"normal","color":"#333","baseline":"alphabetic","offset":-19,"dx":0},"data":{"name":"rAB"},"mark":{"type":"text","fontSize":26.5,"color":"#333"},"encoding":{"x":{"field":"t","type":"quantitative","scale":{"domain":[-5.07,27.76],"nice":false,"zero":false},"axis":{"offset":0,"domain":true,"domainColor":"#222","domainWidth":3,"labels":false,"ticks":false,"title":null}},"y":{"field":"g","type":"nominal","scale":{"domain":["BMS","DES"]},"axis":{"offset":-7,"domain":false,"ticks":false,"title":null,"labelAlign":"left","labelPadding":0,"labelFont":"Liberation Sans","labelFontWeight":"normal","labelFontSize":26.5,"labelColor":"#333"}},"text":{"field":"n"}}}
]},
{"spacing":16,"resolve":{"scale":{"color":"independent"}},"vconcat":[
{"width":734,"height":481,"view":{"stroke":"#000","strokeWidth":9.5,"cornerRadius":6},"title":{"text":"G"},
"layer":[
{"data":{"values":[{}]},"mark":{"type":"rule","strokeWidth":2.8,"color":"#000"},"encoding":{"x":{"datum":0,"type":"quantitative"},"x2":{"datum":24},"y":{"datum":0,"type":"quantitative"}}},
{"data":{"values":[{}]},"mark":{"type":"rule","strokeWidth":2.8,"color":"#000"},"encoding":{"x":{"datum":0,"type":"quantitative"},"y":{"datum":0,"type":"quantitative"},"y2":{"datum":20}}},
{"data":{"values":[{}]},"mark":{"type":"rule","strokeWidth":2,"color":"#333"},"encoding":{"x":{"datum":5.3,"type":"quantitative"},"x2":{"datum":5.85},"y":{"datum":19.81,"type":"quantitative"}}},
{"data":{"values":[{}]},"mark":{"type":"rule","strokeWidth":2,"color":"#333"},"encoding":{"x":{"datum":5.3,"type":"quantitative"},"x2":{"datum":5.85},"y":{"datum":17.66,"type":"quantitative"}}},
{"data":{"values":[{}]},"mark":{"type":"rule","strokeWidth":2,"color":"#333"},"encoding":{"x":{"datum":5.85,"type":"quantitative"},"y":{"datum":19.81,"type":"quantitative"},"y2":{"datum":17.66}}},
{"data":{"values":[{"p":"p < 0.001"}]},"mark":{"type":"text","align":"left","baseline":"middle","fontSize":21,"color":"#333"},"encoding":{"x":{"datum":6.3,"type":"quantitative"},"y":{"datum":18.74,"type":"quantitative"},"text":{"field":"p"}}},
{"data":{"name":"cG"},"mark":{"type":"line","interpolate":"step-after","strokeWidth":2.8},"encoding":{"x":{"field":"t","type":"quantitative","scale":{"domain":[-5.07,27.76],"nice":false,"zero":false},"axis":{"values":[0,6,12,18,24],"title":"Months since revascularization"}},"y":{"field":"c","type":"quantitative","scale":{"domain":[-7.143,25.974],"nice":false,"zero":false},"axis":{"values":[0,5,10,15,20],"format":"d","title":"Cumulative incidence(%)"}},"color":{"field":"g","type":"nominal","scale":{"domain":["BMS","DES"],"range":["#0d1ef2","#2e9b36"]},"legend":{"title":null,"orient":"none","legendX":138,"legendY":74}}}}
]},
{"width":734,"height":98,"title":{"text":"Number at risk","anchor":"start","frame":"group","fontSize":26.5,"font":"Liberation Sans","fontWeight":"normal","color":"#333","baseline":"alphabetic","offset":-19,"dx":0},"data":{"name":"rFG"},"mark":{"type":"text","fontSize":26.5,"color":"#333"},"encoding":{"x":{"field":"t","type":"quantitative","scale":{"domain":[-5.07,27.76],"nice":false,"zero":false},"axis":{"offset":0,"domain":true,"domainColor":"#222","domainWidth":3,"labels":false,"ticks":false,"title":null}},"y":{"field":"g","type":"nominal","scale":{"domain":["BMS","DES"]},"axis":{"offset":-7,"domain":false,"ticks":false,"title":null,"labelAlign":"left","labelPadding":0,"labelFont":"Liberation Sans","labelFontWeight":"normal","labelFontSize":26.5,"labelColor":"#333"}},"text":{"field":"n"}}}
]},
{"spacing":16,"resolve":{"scale":{"color":"independent"}},"vconcat":[
{"width":734,"height":481,"view":{"stroke":"#000","strokeWidth":9.5,"cornerRadius":6},"title":{"text":"L"},
"layer":[
{"data":{"values":[{}]},"mark":{"type":"rule","strokeWidth":2.8,"color":"#000"},"encoding":{"x":{"datum":0,"type":"quantitative"},"x2":{"datum":24},"y":{"datum":0,"type":"quantitative"}}},
{"data":{"values":[{}]},"mark":{"type":"rule","strokeWidth":2.8,"color":"#000"},"encoding":{"x":{"datum":0,"type":"quantitative"},"y":{"datum":0,"type":"quantitative"},"y2":{"datum":5}}},
{"data":{"values":[{}]},"mark":{"type":"rule","strokeWidth":2,"color":"#333"},"encoding":{"x":{"datum":5.3,"type":"quantitative"},"x2":{"datum":5.85},"y":{"datum":4.95,"type":"quantitative"}}},
{"data":{"values":[{}]},"mark":{"type":"rule","strokeWidth":2,"color":"#333"},"encoding":{"x":{"datum":5.3,"type":"quantitative"},"x2":{"datum":5.85},"y":{"datum":4.415,"type":"quantitative"}}},
{"data":{"values":[{}]},"mark":{"type":"rule","strokeWidth":2,"color":"#333"},"encoding":{"x":{"datum":5.85,"type":"quantitative"},"y":{"datum":4.95,"type":"quantitative"},"y2":{"datum":4.415}}},
{"data":{"values":[{"p":"p = 0.617"}]},"mark":{"type":"text","align":"left","baseline":"middle","fontSize":21,"color":"#333"},"encoding":{"x":{"datum":6.3,"type":"quantitative"},"y":{"datum":4.685,"type":"quantitative"},"text":{"field":"p"}}},
{"data":{"name":"cL"},"mark":{"type":"line","interpolate":"step-after","strokeWidth":2.8},"encoding":{"x":{"field":"t","type":"quantitative","scale":{"domain":[-5.07,27.76],"nice":false,"zero":false},"axis":{"values":[0,6,12,18,24],"title":"Months since revascularization"}},"y":{"field":"c","type":"quantitative","scale":{"domain":[-1.786,6.494],"nice":false,"zero":false},"axis":{"values":[0,1,2,3,4,5],"format":"d","title":"Cumulative incidence(%)"}},"color":{"field":"g","type":"nominal","scale":{"domain":["BMS","DES"],"range":["#0d1ef2","#2e9b36"]},"legend":{"title":null,"orient":"none","legendX":138,"legendY":74}}}}
]},
{"width":734,"height":98,"title":{"text":"Number at risk","anchor":"start","frame":"group","fontSize":26.5,"font":"Liberation Sans","fontWeight":"normal","color":"#333","baseline":"alphabetic","offset":-19,"dx":0},"data":{"name":"rKL"},"mark":{"type":"text","fontSize":26.5,"color":"#333"},"encoding":{"x":{"field":"t","type":"quantitative","scale":{"domain":[-5.07,27.76],"nice":false,"zero":false},"axis":{"offset":0,"domain":true,"domainColor":"#222","domainWidth":3,"labels":false,"ticks":false,"title":null}},"y":{"field":"g","type":"nominal","scale":{"domain":["BMS","DES"]},"axis":{"offset":-7,"domain":false,"ticks":false,"title":null,"labelAlign":"left","labelPadding":0,"labelFont":"Liberation Sans","labelFontWeight":"normal","labelFontSize":26.5,"labelColor":"#333"}},"text":{"field":"n"}}}
]}
]},
{"width":20,"height":2004,"view":{"stroke":"#8a8a8a","strokeWidth":2,"strokeDash":[0,20,2004,10000]},"data":{"values":[{}]},"mark":{"type":"point","opacity":0},"encoding":{}},
{"title":{"text":"Nonfatal myocardial infarction","font":"Liberation Serif","fontSize":54,"fontWeight":"bold","anchor":"start","frame":"bounds","offset":-28,"dx":-15,"baseline":"alphabetic","color":"#000"},
"spacing":26,"resolve":{"scale":{"color":"independent"}},
"vconcat":[
{"spacing":16,"resolve":{"scale":{"color":"independent"}},"vconcat":[
{"width":734,"height":481,"view":{"stroke":"#000","strokeWidth":9.5,"cornerRadius":6},"title":{"text":"C"},
"layer":[
{"data":{"values":[{}]},"mark":{"type":"rule","strokeWidth":2.8,"color":"#000"},"encoding":{"x":{"datum":0,"type":"quantitative"},"x2":{"datum":24},"y":{"datum":0,"type":"quantitative"}}},
{"data":{"values":[{}]},"mark":{"type":"rule","strokeWidth":2.8,"color":"#000"},"encoding":{"x":{"datum":0,"type":"quantitative"},"y":{"datum":0,"type":"quantitative"},"y2":{"datum":10}}},
{"data":{"values":[{}]},"mark":{"type":"rule","strokeWidth":2,"color":"#333"},"encoding":{"x":{"datum":5.3,"type":"quantitative"},"x2":{"datum":5.85},"y":{"datum":9.9,"type":"quantitative"}}},
{"data":{"values":[{}]},"mark":{"type":"rule","strokeWidth":2,"color":"#333"},"encoding":{"x":{"datum":5.3,"type":"quantitative"},"x2":{"datum":5.85},"y":{"datum":8.83,"type":"quantitative"}}},
{"data":{"values":[{}]},"mark":{"type":"rule","strokeWidth":2,"color":"#333"},"encoding":{"x":{"datum":5.85,"type":"quantitative"},"y":{"datum":9.9,"type":"quantitative"},"y2":{"datum":8.83}}},
{"data":{"values":[{"p":"p = 0.001"}]},"mark":{"type":"text","align":"left","baseline":"middle","fontSize":21,"color":"#333"},"encoding":{"x":{"datum":6.3,"type":"quantitative"},"y":{"datum":9.37,"type":"quantitative"},"text":{"field":"p"}}},
{"data":{"name":"cC"},"mark":{"type":"line","interpolate":"step-after","strokeWidth":2.8},"encoding":{"x":{"field":"t","type":"quantitative","scale":{"domain":[-5.07,27.76],"nice":false,"zero":false},"axis":{"values":[0,6,12,18,24],"title":"Months since revascularization"}},"y":{"field":"c","type":"quantitative","scale":{"domain":[-3.571,12.987],"nice":false,"zero":false},"axis":{"values":[0,2,4,6,8,10],"format":"d","title":"Cumulative incidence(%)"}},"color":{"field":"g","type":"nominal","scale":{"domain":["BMS","DES"],"range":["#0d1ef2","#2e9b36"]},"legend":{"title":null,"orient":"none","legendX":138,"legendY":74}}}}
]},
{"width":734,"height":98,"title":{"text":"Number at risk","anchor":"start","frame":"group","fontSize":26.5,"font":"Liberation Sans","fontWeight":"normal","color":"#333","baseline":"alphabetic","offset":-19,"dx":0},"data":{"name":"rC"},"mark":{"type":"text","fontSize":26.5,"color":"#333"},"encoding":{"x":{"field":"t","type":"quantitative","scale":{"domain":[-5.07,27.76],"nice":false,"zero":false},"axis":{"offset":0,"domain":true,"domainColor":"#222","domainWidth":3,"labels":false,"ticks":false,"title":null}},"y":{"field":"g","type":"nominal","scale":{"domain":["BMS","DES"]},"axis":{"offset":-7,"domain":false,"ticks":false,"title":null,"labelAlign":"left","labelPadding":0,"labelFont":"Liberation Sans","labelFontWeight":"normal","labelFontSize":26.5,"labelColor":"#333"}},"text":{"field":"n"}}}
]},
{"spacing":16,"resolve":{"scale":{"color":"independent"}},"vconcat":[
{"width":734,"height":481,"view":{"stroke":"#000","strokeWidth":9.5,"cornerRadius":6},"title":{"text":"H"},
"layer":[
{"data":{"values":[{}]},"mark":{"type":"rule","strokeWidth":2.8,"color":"#000"},"encoding":{"x":{"datum":0,"type":"quantitative"},"x2":{"datum":24},"y":{"datum":0,"type":"quantitative"}}},
{"data":{"values":[{}]},"mark":{"type":"rule","strokeWidth":2.8,"color":"#000"},"encoding":{"x":{"datum":0,"type":"quantitative"},"y":{"datum":0,"type":"quantitative"},"y2":{"datum":10}}},
{"data":{"values":[{}]},"mark":{"type":"rule","strokeWidth":2,"color":"#333"},"encoding":{"x":{"datum":5.3,"type":"quantitative"},"x2":{"datum":5.85},"y":{"datum":9.9,"type":"quantitative"}}},
{"data":{"values":[{}]},"mark":{"type":"rule","strokeWidth":2,"color":"#333"},"encoding":{"x":{"datum":5.3,"type":"quantitative"},"x2":{"datum":5.85},"y":{"datum":8.83,"type":"quantitative"}}},
{"data":{"values":[{}]},"mark":{"type":"rule","strokeWidth":2,"color":"#333"},"encoding":{"x":{"datum":5.85,"type":"quantitative"},"y":{"datum":9.9,"type":"quantitative"},"y2":{"datum":8.83}}},
{"data":{"values":[{"p":"p = 0.009"}]},"mark":{"type":"text","align":"left","baseline":"middle","fontSize":21,"color":"#333"},"encoding":{"x":{"datum":6.3,"type":"quantitative"},"y":{"datum":9.37,"type":"quantitative"},"text":{"field":"p"}}},
{"data":{"name":"cH"},"mark":{"type":"line","interpolate":"step-after","strokeWidth":2.8},"encoding":{"x":{"field":"t","type":"quantitative","scale":{"domain":[-5.07,27.76],"nice":false,"zero":false},"axis":{"values":[0,6,12,18,24],"title":"Months since revascularization"}},"y":{"field":"c","type":"quantitative","scale":{"domain":[-3.571,12.987],"nice":false,"zero":false},"axis":{"values":[0,2,4,6,8,10],"format":"d","title":"Cumulative incidence(%)"}},"color":{"field":"g","type":"nominal","scale":{"domain":["BMS","DES"],"range":["#0d1ef2","#2e9b36"]},"legend":{"title":null,"orient":"none","legendX":138,"legendY":74}}}}
]},
{"width":734,"height":98,"title":{"text":"Number at risk","anchor":"start","frame":"group","fontSize":26.5,"font":"Liberation Sans","fontWeight":"normal","color":"#333","baseline":"alphabetic","offset":-19,"dx":0},"data":{"name":"rH"},"mark":{"type":"text","fontSize":26.5,"color":"#333"},"encoding":{"x":{"field":"t","type":"quantitative","scale":{"domain":[-5.07,27.76],"nice":false,"zero":false},"axis":{"offset":0,"domain":true,"domainColor":"#222","domainWidth":3,"labels":false,"ticks":false,"title":null}},"y":{"field":"g","type":"nominal","scale":{"domain":["BMS","DES"]},"axis":{"offset":-7,"domain":false,"ticks":false,"title":null,"labelAlign":"left","labelPadding":0,"labelFont":"Liberation Sans","labelFontWeight":"normal","labelFontSize":26.5,"labelColor":"#333"}},"text":{"field":"n"}}}
]},
{"spacing":16,"resolve":{"scale":{"color":"independent"}},"vconcat":[
{"width":734,"height":481,"view":{"stroke":"#000","strokeWidth":9.5,"cornerRadius":6},"title":{"text":"M"},
"layer":[
{"data":{"values":[{}]},"mark":{"type":"rule","strokeWidth":2.8,"color":"#000"},"encoding":{"x":{"datum":0,"type":"quantitative"},"x2":{"datum":24},"y":{"datum":0,"type":"quantitative"}}},
{"data":{"values":[{}]},"mark":{"type":"rule","strokeWidth":2.8,"color":"#000"},"encoding":{"x":{"datum":0,"type":"quantitative"},"y":{"datum":0,"type":"quantitative"},"y2":{"datum":10}}},
{"data":{"values":[{}]},"mark":{"type":"rule","strokeWidth":2,"color":"#333"},"encoding":{"x":{"datum":5.3,"type":"quantitative"},"x2":{"datum":5.85},"y":{"datum":9.9,"type":"quantitative"}}},
{"data":{"values":[{}]},"mark":{"type":"rule","strokeWidth":2,"color":"#333"},"encoding":{"x":{"datum":5.3,"type":"quantitative"},"x2":{"datum":5.85},"y":{"datum":8.83,"type":"quantitative"}}},
{"data":{"values":[{}]},"mark":{"type":"rule","strokeWidth":2,"color":"#333"},"encoding":{"x":{"datum":5.85,"type":"quantitative"},"y":{"datum":9.9,"type":"quantitative"},"y2":{"datum":8.83}}},
{"data":{"values":[{"p":"p = 0.040"}]},"mark":{"type":"text","align":"left","baseline":"middle","fontSize":21,"color":"#333"},"encoding":{"x":{"datum":6.3,"type":"quantitative"},"y":{"datum":9.37,"type":"quantitative"},"text":{"field":"p"}}},
{"data":{"name":"cM"},"mark":{"type":"line","interpolate":"step-after","strokeWidth":2.8},"encoding":{"x":{"field":"t","type":"quantitative","scale":{"domain":[-5.07,27.76],"nice":false,"zero":false},"axis":{"values":[0,6,12,18,24],"title":"Months since revascularization"}},"y":{"field":"c","type":"quantitative","scale":{"domain":[-3.571,12.987],"nice":false,"zero":false},"axis":{"values":[0,2,4,6,8,10],"format":"d","title":"Cumulative incidence(%)"}},"color":{"field":"g","type":"nominal","scale":{"domain":["BMS","DES"],"range":["#0d1ef2","#2e9b36"]},"legend":{"title":null,"orient":"none","legendX":138,"legendY":74}}}}
]},
{"width":734,"height":98,"title":{"text":"Number at risk","anchor":"start","frame":"group","fontSize":26.5,"font":"Liberation Sans","fontWeight":"normal","color":"#333","baseline":"alphabetic","offset":-19,"dx":0},"data":{"name":"rM"},"mark":{"type":"text","fontSize":26.5,"color":"#333"},"encoding":{"x":{"field":"t","type":"quantitative","scale":{"domain":[-5.07,27.76],"nice":false,"zero":false},"axis":{"offset":0,"domain":true,"domainColor":"#222","domainWidth":3,"labels":false,"ticks":false,"title":null}},"y":{"field":"g","type":"nominal","scale":{"domain":["BMS","DES"]},"axis":{"offset":-7,"domain":false,"ticks":false,"title":null,"labelAlign":"left","labelPadding":0,"labelFont":"Liberation Sans","labelFontWeight":"normal","labelFontSize":26.5,"labelColor":"#333"}},"text":{"field":"n"}}}
]}
]},
{"width":20,"height":2004,"view":{"stroke":"#8a8a8a","strokeWidth":2,"strokeDash":[0,20,2004,10000]},"data":{"values":[{}]},"mark":{"type":"point","opacity":0},"encoding":{}},
{"title":{"text":"Ischemic stroke","font":"Liberation Serif","fontSize":54,"fontWeight":"bold","anchor":"start","frame":"bounds","offset":-28,"dx":-15,"baseline":"alphabetic","color":"#000"},
"spacing":26,"resolve":{"scale":{"color":"independent"}},
"vconcat":[
{"spacing":16,"resolve":{"scale":{"color":"independent"}},"vconcat":[
{"width":734,"height":481,"view":{"stroke":"#000","strokeWidth":9.5,"cornerRadius":6},"title":{"text":"D"},
"layer":[
{"data":{"values":[{}]},"mark":{"type":"rule","strokeWidth":2.8,"color":"#000"},"encoding":{"x":{"datum":0,"type":"quantitative"},"x2":{"datum":24},"y":{"datum":0,"type":"quantitative"}}},
{"data":{"values":[{}]},"mark":{"type":"rule","strokeWidth":2.8,"color":"#000"},"encoding":{"x":{"datum":0,"type":"quantitative"},"y":{"datum":0,"type":"quantitative"},"y2":{"datum":5}}},
{"data":{"values":[{}]},"mark":{"type":"rule","strokeWidth":2,"color":"#333"},"encoding":{"x":{"datum":5.3,"type":"quantitative"},"x2":{"datum":5.85},"y":{"datum":4.95,"type":"quantitative"}}},
{"data":{"values":[{}]},"mark":{"type":"rule","strokeWidth":2,"color":"#333"},"encoding":{"x":{"datum":5.3,"type":"quantitative"},"x2":{"datum":5.85},"y":{"datum":4.415,"type":"quantitative"}}},
{"data":{"values":[{}]},"mark":{"type":"rule","strokeWidth":2,"color":"#333"},"encoding":{"x":{"datum":5.85,"type":"quantitative"},"y":{"datum":4.95,"type":"quantitative"},"y2":{"datum":4.415}}},
{"data":{"values":[{"p":"p = 0.165"}]},"mark":{"type":"text","align":"left","baseline":"middle","fontSize":21,"color":"#333"},"encoding":{"x":{"datum":6.3,"type":"quantitative"},"y":{"datum":4.685,"type":"quantitative"},"text":{"field":"p"}}},
{"data":{"name":"cD"},"mark":{"type":"line","interpolate":"step-after","strokeWidth":2.8},"encoding":{"x":{"field":"t","type":"quantitative","scale":{"domain":[-5.07,27.76],"nice":false,"zero":false},"axis":{"values":[0,6,12,18,24],"title":"Months since revascularization"}},"y":{"field":"c","type":"quantitative","scale":{"domain":[-1.786,6.494],"nice":false,"zero":false},"axis":{"values":[0,1,2,3,4,5],"format":"d","title":"Cumulative incidence(%)"}},"color":{"field":"g","type":"nominal","scale":{"domain":["BMS","DES"],"range":["#0d1ef2","#2e9b36"]},"legend":{"title":null,"orient":"none","legendX":138,"legendY":74}}}}
]},
{"width":734,"height":98,"title":{"text":"Number at risk","anchor":"start","frame":"group","fontSize":26.5,"font":"Liberation Sans","fontWeight":"normal","color":"#333","baseline":"alphabetic","offset":-19,"dx":0},"data":{"name":"rD"},"mark":{"type":"text","fontSize":26.5,"color":"#333"},"encoding":{"x":{"field":"t","type":"quantitative","scale":{"domain":[-5.07,27.76],"nice":false,"zero":false},"axis":{"offset":0,"domain":true,"domainColor":"#222","domainWidth":3,"labels":false,"ticks":false,"title":null}},"y":{"field":"g","type":"nominal","scale":{"domain":["BMS","DES"]},"axis":{"offset":-7,"domain":false,"ticks":false,"title":null,"labelAlign":"left","labelPadding":0,"labelFont":"Liberation Sans","labelFontWeight":"normal","labelFontSize":26.5,"labelColor":"#333"}},"text":{"field":"n"}}}
]},
{"spacing":16,"resolve":{"scale":{"color":"independent"}},"vconcat":[
{"width":734,"height":481,"view":{"stroke":"#000","strokeWidth":9.5,"cornerRadius":6},"title":{"text":"I"},
"layer":[
{"data":{"values":[{}]},"mark":{"type":"rule","strokeWidth":2.8,"color":"#000"},"encoding":{"x":{"datum":0,"type":"quantitative"},"x2":{"datum":24},"y":{"datum":0,"type":"quantitative"}}},
{"data":{"values":[{}]},"mark":{"type":"rule","strokeWidth":2.8,"color":"#000"},"encoding":{"x":{"datum":0,"type":"quantitative"},"y":{"datum":0,"type":"quantitative"},"y2":{"datum":5}}},
{"data":{"values":[{}]},"mark":{"type":"rule","strokeWidth":2,"color":"#333"},"encoding":{"x":{"datum":5.3,"type":"quantitative"},"x2":{"datum":5.85},"y":{"datum":4.95,"type":"quantitative"}}},
{"data":{"values":[{}]},"mark":{"type":"rule","strokeWidth":2,"color":"#333"},"encoding":{"x":{"datum":5.3,"type":"quantitative"},"x2":{"datum":5.85},"y":{"datum":4.415,"type":"quantitative"}}},
{"data":{"values":[{}]},"mark":{"type":"rule","strokeWidth":2,"color":"#333"},"encoding":{"x":{"datum":5.85,"type":"quantitative"},"y":{"datum":4.95,"type":"quantitative"},"y2":{"datum":4.415}}},
{"data":{"values":[{"p":"p = 0.732"}]},"mark":{"type":"text","align":"left","baseline":"middle","fontSize":21,"color":"#333"},"encoding":{"x":{"datum":6.3,"type":"quantitative"},"y":{"datum":4.685,"type":"quantitative"},"text":{"field":"p"}}},
{"data":{"name":"cI"},"mark":{"type":"line","interpolate":"step-after","strokeWidth":2.8},"encoding":{"x":{"field":"t","type":"quantitative","scale":{"domain":[-5.07,27.76],"nice":false,"zero":false},"axis":{"values":[0,6,12,18,24],"title":"Months since revascularization"}},"y":{"field":"c","type":"quantitative","scale":{"domain":[-1.786,6.494],"nice":false,"zero":false},"axis":{"values":[0,1,2,3,4,5],"format":"d","title":"Cumulative incidence(%)"}},"color":{"field":"g","type":"nominal","scale":{"domain":["BMS","DES"],"range":["#0d1ef2","#2e9b36"]},"legend":{"title":null,"orient":"none","legendX":138,"legendY":74}}}}
]},
{"width":734,"height":98,"title":{"text":"Number at risk","anchor":"start","frame":"group","fontSize":26.5,"font":"Liberation Sans","fontWeight":"normal","color":"#333","baseline":"alphabetic","offset":-19,"dx":0},"data":{"name":"rI"},"mark":{"type":"text","fontSize":26.5,"color":"#333"},"encoding":{"x":{"field":"t","type":"quantitative","scale":{"domain":[-5.07,27.76],"nice":false,"zero":false},"axis":{"offset":0,"domain":true,"domainColor":"#222","domainWidth":3,"labels":false,"ticks":false,"title":null}},"y":{"field":"g","type":"nominal","scale":{"domain":["BMS","DES"]},"axis":{"offset":-7,"domain":false,"ticks":false,"title":null,"labelAlign":"left","labelPadding":0,"labelFont":"Liberation Sans","labelFontWeight":"normal","labelFontSize":26.5,"labelColor":"#333"}},"text":{"field":"n"}}}
]},
{"spacing":16,"resolve":{"scale":{"color":"independent"}},"vconcat":[
{"width":734,"height":481,"view":{"stroke":"#000","strokeWidth":9.5,"cornerRadius":6},"title":{"text":"N"},
"layer":[
{"data":{"values":[{}]},"mark":{"type":"rule","strokeWidth":2.8,"color":"#000"},"encoding":{"x":{"datum":0,"type":"quantitative"},"x2":{"datum":24},"y":{"datum":0,"type":"quantitative"}}},
{"data":{"values":[{}]},"mark":{"type":"rule","strokeWidth":2.8,"color":"#000"},"encoding":{"x":{"datum":0,"type":"quantitative"},"y":{"datum":0,"type":"quantitative"},"y2":{"datum":10}}},
{"data":{"values":[{}]},"mark":{"type":"rule","strokeWidth":2,"color":"#333"},"encoding":{"x":{"datum":5.3,"type":"quantitative"},"x2":{"datum":5.85},"y":{"datum":9.9,"type":"quantitative"}}},
{"data":{"values":[{}]},"mark":{"type":"rule","strokeWidth":2,"color":"#333"},"encoding":{"x":{"datum":5.3,"type":"quantitative"},"x2":{"datum":5.85},"y":{"datum":8.83,"type":"quantitative"}}},
{"data":{"values":[{}]},"mark":{"type":"rule","strokeWidth":2,"color":"#333"},"encoding":{"x":{"datum":5.85,"type":"quantitative"},"y":{"datum":9.9,"type":"quantitative"},"y2":{"datum":8.83}}},
{"data":{"values":[{"p":"p = 0.027"}]},"mark":{"type":"text","align":"left","baseline":"middle","fontSize":21,"color":"#333"},"encoding":{"x":{"datum":6.3,"type":"quantitative"},"y":{"datum":9.37,"type":"quantitative"},"text":{"field":"p"}}},
{"data":{"name":"cN"},"mark":{"type":"line","interpolate":"step-after","strokeWidth":2.8},"encoding":{"x":{"field":"t","type":"quantitative","scale":{"domain":[-5.07,27.76],"nice":false,"zero":false},"axis":{"values":[0,6,12,18,24],"title":"Months since revascularization"}},"y":{"field":"c","type":"quantitative","scale":{"domain":[-3.571,12.987],"nice":false,"zero":false},"axis":{"values":[0,2,4,6,8,10],"format":"d","title":"Cumulative incidence(%)"}},"color":{"field":"g","type":"nominal","scale":{"domain":["BMS","DES"],"range":["#0d1ef2","#2e9b36"]},"legend":{"title":null,"orient":"none","legendX":138,"legendY":74}}}}
]},
{"width":734,"height":98,"title":{"text":"Number at risk","anchor":"start","frame":"group","fontSize":26.5,"font":"Liberation Sans","fontWeight":"normal","color":"#333","baseline":"alphabetic","offset":-19,"dx":0},"data":{"name":"rN"},"mark":{"type":"text","fontSize":26.5,"color":"#333"},"encoding":{"x":{"field":"t","type":"quantitative","scale":{"domain":[-5.07,27.76],"nice":false,"zero":false},"axis":{"offset":0,"domain":true,"domainColor":"#222","domainWidth":3,"labels":false,"ticks":false,"title":null}},"y":{"field":"g","type":"nominal","scale":{"domain":["BMS","DES"]},"axis":{"offset":-7,"domain":false,"ticks":false,"title":null,"labelAlign":"left","labelPadding":0,"labelFont":"Liberation Sans","labelFontWeight":"normal","labelFontSize":26.5,"labelColor":"#333"}},"text":{"field":"n"}}}
]}
]},
{"width":20,"height":2004,"view":{"stroke":"#8a8a8a","strokeWidth":2,"strokeDash":[0,20,2004,10000]},"data":{"values":[{}]},"mark":{"type":"point","opacity":0},"encoding":{}},
{"title":{"text":"Target vessel revascularization","font":"Liberation Serif","fontSize":54,"fontWeight":"bold","anchor":"start","frame":"bounds","offset":-28,"dx":-15,"baseline":"alphabetic","color":"#000"},
"spacing":26,"resolve":{"scale":{"color":"independent"}},
"vconcat":[
{"spacing":16,"resolve":{"scale":{"color":"independent"}},"vconcat":[
{"width":734,"height":481,"view":{"stroke":"#000","strokeWidth":9.5,"cornerRadius":6},"title":{"text":"E"},
"layer":[
{"data":{"values":[{}]},"mark":{"type":"rule","strokeWidth":2.8,"color":"#000"},"encoding":{"x":{"datum":0,"type":"quantitative"},"x2":{"datum":24},"y":{"datum":0,"type":"quantitative"}}},
{"data":{"values":[{}]},"mark":{"type":"rule","strokeWidth":2.8,"color":"#000"},"encoding":{"x":{"datum":0,"type":"quantitative"},"y":{"datum":0,"type":"quantitative"},"y2":{"datum":20}}},
{"data":{"values":[{}]},"mark":{"type":"rule","strokeWidth":2,"color":"#333"},"encoding":{"x":{"datum":5.3,"type":"quantitative"},"x2":{"datum":5.85},"y":{"datum":19.81,"type":"quantitative"}}},
{"data":{"values":[{}]},"mark":{"type":"rule","strokeWidth":2,"color":"#333"},"encoding":{"x":{"datum":5.3,"type":"quantitative"},"x2":{"datum":5.85},"y":{"datum":17.66,"type":"quantitative"}}},
{"data":{"values":[{}]},"mark":{"type":"rule","strokeWidth":2,"color":"#333"},"encoding":{"x":{"datum":5.85,"type":"quantitative"},"y":{"datum":19.81,"type":"quantitative"},"y2":{"datum":17.66}}},
{"data":{"values":[{"p":"p = 0.010"}]},"mark":{"type":"text","align":"left","baseline":"middle","fontSize":21,"color":"#333"},"encoding":{"x":{"datum":6.3,"type":"quantitative"},"y":{"datum":18.74,"type":"quantitative"},"text":{"field":"p"}}},
{"data":{"name":"cE"},"mark":{"type":"line","interpolate":"step-after","strokeWidth":2.8},"encoding":{"x":{"field":"t","type":"quantitative","scale":{"domain":[-5.07,27.76],"nice":false,"zero":false},"axis":{"values":[0,6,12,18,24],"title":"Months since revascularization"}},"y":{"field":"c","type":"quantitative","scale":{"domain":[-7.143,25.974],"nice":false,"zero":false},"axis":{"values":[0,5,10,15,20],"format":"d","title":"Cumulative incidence(%)"}},"color":{"field":"g","type":"nominal","scale":{"domain":["BMS","DES"],"range":["#0d1ef2","#2e9b36"]},"legend":{"title":null,"orient":"none","legendX":138,"legendY":74}}}}
]},
{"width":734,"height":98,"title":{"text":"Number at risk","anchor":"start","frame":"group","fontSize":26.5,"font":"Liberation Sans","fontWeight":"normal","color":"#333","baseline":"alphabetic","offset":-19,"dx":0},"data":{"name":"rE"},"mark":{"type":"text","fontSize":26.5,"color":"#333"},"encoding":{"x":{"field":"t","type":"quantitative","scale":{"domain":[-5.07,27.76],"nice":false,"zero":false},"axis":{"offset":0,"domain":true,"domainColor":"#222","domainWidth":3,"labels":false,"ticks":false,"title":null}},"y":{"field":"g","type":"nominal","scale":{"domain":["BMS","DES"]},"axis":{"offset":-7,"domain":false,"ticks":false,"title":null,"labelAlign":"left","labelPadding":0,"labelFont":"Liberation Sans","labelFontWeight":"normal","labelFontSize":26.5,"labelColor":"#333"}},"text":{"field":"n"}}}
]},
{"spacing":16,"resolve":{"scale":{"color":"independent"}},"vconcat":[
{"width":734,"height":481,"view":{"stroke":"#000","strokeWidth":9.5,"cornerRadius":6},"title":{"text":"J"},
"layer":[
{"data":{"values":[{}]},"mark":{"type":"rule","strokeWidth":2.8,"color":"#000"},"encoding":{"x":{"datum":0,"type":"quantitative"},"x2":{"datum":24},"y":{"datum":0,"type":"quantitative"}}},
{"data":{"values":[{}]},"mark":{"type":"rule","strokeWidth":2.8,"color":"#000"},"encoding":{"x":{"datum":0,"type":"quantitative"},"y":{"datum":0,"type":"quantitative"},"y2":{"datum":20}}},
{"data":{"values":[{}]},"mark":{"type":"rule","strokeWidth":2,"color":"#333"},"encoding":{"x":{"datum":5.3,"type":"quantitative"},"x2":{"datum":5.85},"y":{"datum":19.81,"type":"quantitative"}}},
{"data":{"values":[{}]},"mark":{"type":"rule","strokeWidth":2,"color":"#333"},"encoding":{"x":{"datum":5.3,"type":"quantitative"},"x2":{"datum":5.85},"y":{"datum":17.66,"type":"quantitative"}}},
{"data":{"values":[{}]},"mark":{"type":"rule","strokeWidth":2,"color":"#333"},"encoding":{"x":{"datum":5.85,"type":"quantitative"},"y":{"datum":19.81,"type":"quantitative"},"y2":{"datum":17.66}}},
{"data":{"values":[{"p":"p = 0.159"}]},"mark":{"type":"text","align":"left","baseline":"middle","fontSize":21,"color":"#333"},"encoding":{"x":{"datum":6.3,"type":"quantitative"},"y":{"datum":18.74,"type":"quantitative"},"text":{"field":"p"}}},
{"data":{"name":"cJ"},"mark":{"type":"line","interpolate":"step-after","strokeWidth":2.8},"encoding":{"x":{"field":"t","type":"quantitative","scale":{"domain":[-5.07,27.76],"nice":false,"zero":false},"axis":{"values":[0,6,12,18,24],"title":"Months since revascularization"}},"y":{"field":"c","type":"quantitative","scale":{"domain":[-7.143,25.974],"nice":false,"zero":false},"axis":{"values":[0,5,10,15,20],"format":"d","title":"Cumulative incidence(%)"}},"color":{"field":"g","type":"nominal","scale":{"domain":["BMS","DES"],"range":["#0d1ef2","#2e9b36"]},"legend":{"title":null,"orient":"none","legendX":138,"legendY":74}}}}
]},
{"width":734,"height":98,"title":{"text":"Number at risk","anchor":"start","frame":"group","fontSize":26.5,"font":"Liberation Sans","fontWeight":"normal","color":"#333","baseline":"alphabetic","offset":-19,"dx":0},"data":{"name":"rJ"},"mark":{"type":"text","fontSize":26.5,"color":"#333"},"encoding":{"x":{"field":"t","type":"quantitative","scale":{"domain":[-5.07,27.76],"nice":false,"zero":false},"axis":{"offset":0,"domain":true,"domainColor":"#222","domainWidth":3,"labels":false,"ticks":false,"title":null}},"y":{"field":"g","type":"nominal","scale":{"domain":["BMS","DES"]},"axis":{"offset":-7,"domain":false,"ticks":false,"title":null,"labelAlign":"left","labelPadding":0,"labelFont":"Liberation Sans","labelFontWeight":"normal","labelFontSize":26.5,"labelColor":"#333"}},"text":{"field":"n"}}}
]},
{"spacing":16,"resolve":{"scale":{"color":"independent"}},"vconcat":[
{"width":734,"height":481,"view":{"stroke":"#000","strokeWidth":9.5,"cornerRadius":6},"title":{"text":"O"},
"layer":[
{"data":{"values":[{}]},"mark":{"type":"rule","strokeWidth":2.8,"color":"#000"},"encoding":{"x":{"datum":0,"type":"quantitative"},"x2":{"datum":24},"y":{"datum":0,"type":"quantitative"}}},
{"data":{"values":[{}]},"mark":{"type":"rule","strokeWidth":2.8,"color":"#000"},"encoding":{"x":{"datum":0,"type":"quantitative"},"y":{"datum":0,"type":"quantitative"},"y2":{"datum":20}}},
{"data":{"values":[{}]},"mark":{"type":"rule","strokeWidth":2,"color":"#333"},"encoding":{"x":{"datum":5.3,"type":"quantitative"},"x2":{"datum":5.85},"y":{"datum":19.81,"type":"quantitative"}}},
{"data":{"values":[{}]},"mark":{"type":"rule","strokeWidth":2,"color":"#333"},"encoding":{"x":{"datum":5.3,"type":"quantitative"},"x2":{"datum":5.85},"y":{"datum":17.66,"type":"quantitative"}}},
{"data":{"values":[{}]},"mark":{"type":"rule","strokeWidth":2,"color":"#333"},"encoding":{"x":{"datum":5.85,"type":"quantitative"},"y":{"datum":19.81,"type":"quantitative"},"y2":{"datum":17.66}}},
{"data":{"values":[{"p":"p = 0.039"}]},"mark":{"type":"text","align":"left","baseline":"middle","fontSize":21,"color":"#333"},"encoding":{"x":{"datum":6.3,"type":"quantitative"},"y":{"datum":18.74,"type":"quantitative"},"text":{"field":"p"}}},
{"data":{"name":"cO"},"mark":{"type":"line","interpolate":"step-after","strokeWidth":2.8},"encoding":{"x":{"field":"t","type":"quantitative","scale":{"domain":[-5.07,27.76],"nice":false,"zero":false},"axis":{"values":[0,6,12,18,24],"title":"Months since revascularization"}},"y":{"field":"c","type":"quantitative","scale":{"domain":[-7.143,25.974],"nice":false,"zero":false},"axis":{"values":[0,5,10,15,20],"format":"d","title":"Cumulative incidence(%)"}},"color":{"field":"g","type":"nominal","scale":{"domain":["BMS","DES"],"range":["#0d1ef2","#2e9b36"]},"legend":{"title":null,"orient":"none","legendX":138,"legendY":74}}}}
]},
{"width":734,"height":98,"title":{"text":"Number at risk","anchor":"start","frame":"group","fontSize":26.5,"font":"Liberation Sans","fontWeight":"normal","color":"#333","baseline":"alphabetic","offset":-19,"dx":0},"data":{"name":"rO"},"mark":{"type":"text","fontSize":26.5,"color":"#333"},"encoding":{"x":{"field":"t","type":"quantitative","scale":{"domain":[-5.07,27.76],"nice":false,"zero":false},"axis":{"offset":0,"domain":true,"domainColor":"#222","domainWidth":3,"labels":false,"ticks":false,"title":null}},"y":{"field":"g","type":"nominal","scale":{"domain":["BMS","DES"]},"axis":{"offset":-7,"domain":false,"ticks":false,"title":null,"labelAlign":"left","labelPadding":0,"labelFont":"Liberation Sans","labelFontWeight":"normal","labelFontSize":26.5,"labelColor":"#333"}},"text":{"field":"n"}}}
]}
]},
{"width":20,"height":2004,"view":{"stroke":"#8a8a8a","strokeWidth":2,"strokeDash":[0,20,2004,10000]},"data":{"values":[{}]},"mark":{"type":"point","opacity":0},"encoding":{}}
]},
{"width":4031,"height":1,"view":{"stroke":"#8a8a8a","strokeWidth":2},"data":{"values":[{}]},"mark":{"type":"point","opacity":0},"encoding":{}}
],
"config":{
"font":"Liberation Sans",
"view":{"stroke":null},
"axis":{"grid":false},
"axisX":{"offset":-104,"domain":false,"tickSize":10,"tickWidth":2.8,"tickColor":"#000","labelFont":"Liberation Serif","labelFontWeight":"bold","labelFontSize":28,"labelColor":"#000","labelPadding":7,"labelFlush":false,"labelOverlap":false,"titleFont":"Liberation Sans","titleFontSize":28,"titleFontWeight":"normal","titleColor":"#222","titlePadding":8,"titleX":401},
"axisY":{"offset":-113,"domain":false,"tickSize":8.5,"tickWidth":2.8,"tickColor":"#000","labelFont":"Liberation Serif","labelFontWeight":"bold","labelFontSize":28,"labelColor":"#000","labelPadding":3,"labelFlush":false,"labelOverlap":false,"titleFont":"Liberation Sans","titleFontSize":29,"titleFontWeight":"normal","titleColor":"#222","titleAngle":90,"titleX":-68,"titleY":249,"titleBaseline":"middle","titleAlign":"center"},
"legend":{"symbolType":"stroke","symbolSize":697,"symbolStrokeWidth":2.8,"labelFont":"Liberation Sans","labelFontSize":23.6,"labelColor":"#333","labelOffset":13,"rowPadding":4.7,"padding":0},
"title":{"anchor":"start","frame":"group","font":"Liberation Sans","fontSize":44,"fontWeight":"normal","color":"#000","baseline":"alphabetic","offset":-67,"dx":24.5},
"text":{"font":"Liberation Sans"}
}
}
